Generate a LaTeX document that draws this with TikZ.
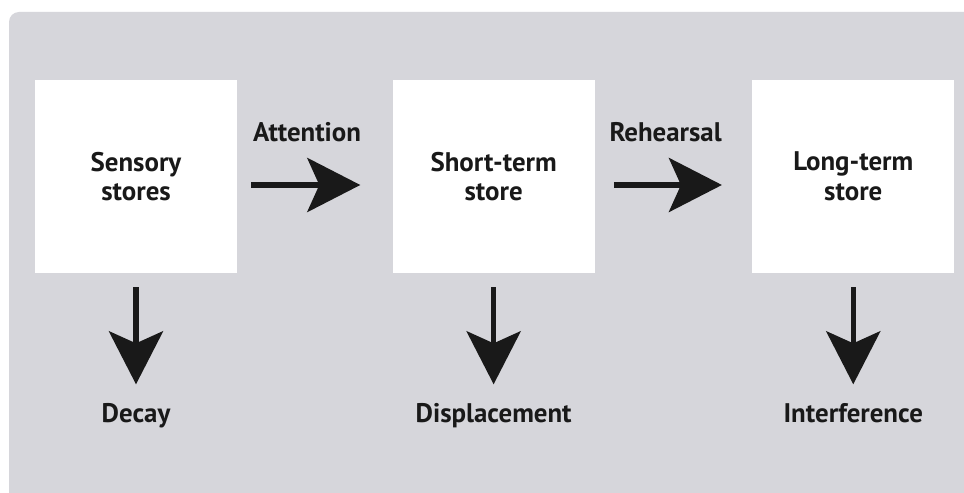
\documentclass[tikz,border=0pt]{standalone}
\usepackage{fontspec}
\setmainfont{PT Sans}
\definecolor{panelgray}{RGB}{214,214,219}
\definecolor{inkblack}{RGB}{25,25,25}
\usetikzlibrary{arrows.meta, positioning}

\begin{document}
\begin{tikzpicture}[x=0.02cm, y=-0.02cm,
    st/.style={fill=white, minimum width=4.04cm, minimum height=3.86cm,
        font=\fontsize{15.3}{16.8}\selectfont\bfseries, align=center,
        text=inkblack},
    lbl/.style={font=\fontsize{15.3}{16.8}\selectfont\bfseries, text=inkblack,
        inner sep=0pt, text height=0.7em, text depth=0.25em},
    arr/.style={-{Stealth[length=1.06cm, width=1.08cm, inset=0.24cm]},
        line width=0.11cm, inkblack}
  ]
  \useasboundingbox (0,0) rectangle (964,493);
  \fill[white] (0,0) rectangle (964,493);
  \fill[panelgray, rounded corners=0.2cm] (9,12) rectangle (1000,520);
  % stores
  \node[st] (sens) at (136,176.5) {Sensory\\stores};
  \node[st, right=3.1cm of sens] (stm) {Short-term\\store};
  \node[st, right=3.14cm of stm] (ltm) {Long-term\\store};
  % forgetting
  \node[lbl, below=2.74cm of sens] (decay) {Decay};
  \node[lbl, below=2.74cm of stm] (displ) {Displacement};
  \node[lbl, below=2.74cm of ltm] (interf) {Interference};
  % transfer arrows
  \draw[arr, shorten <=0.28cm, shorten >=0.64cm] ([yshift=-0.17cm]sens.east)
    -- node[lbl, pos=0.45, above=0.72cm]{Attention} ([yshift=-0.17cm]stm.west);
  \draw[arr, shorten <=0.38cm, shorten >=0.6cm] ([yshift=-0.17cm]stm.east)
    -- node[lbl, pos=0.45, above=0.72cm]{Rehearsal} ([yshift=-0.17cm]ltm.west);
  \draw[arr, shorten <=0.28cm, shorten >=0.52cm] (sens) -- (decay);
  \draw[arr, shorten <=0.28cm, shorten >=0.52cm] (stm) -- (displ);
  \draw[arr, shorten <=0.28cm, shorten >=0.52cm] (ltm) -- (interf);
\end{tikzpicture}
\end{document}
